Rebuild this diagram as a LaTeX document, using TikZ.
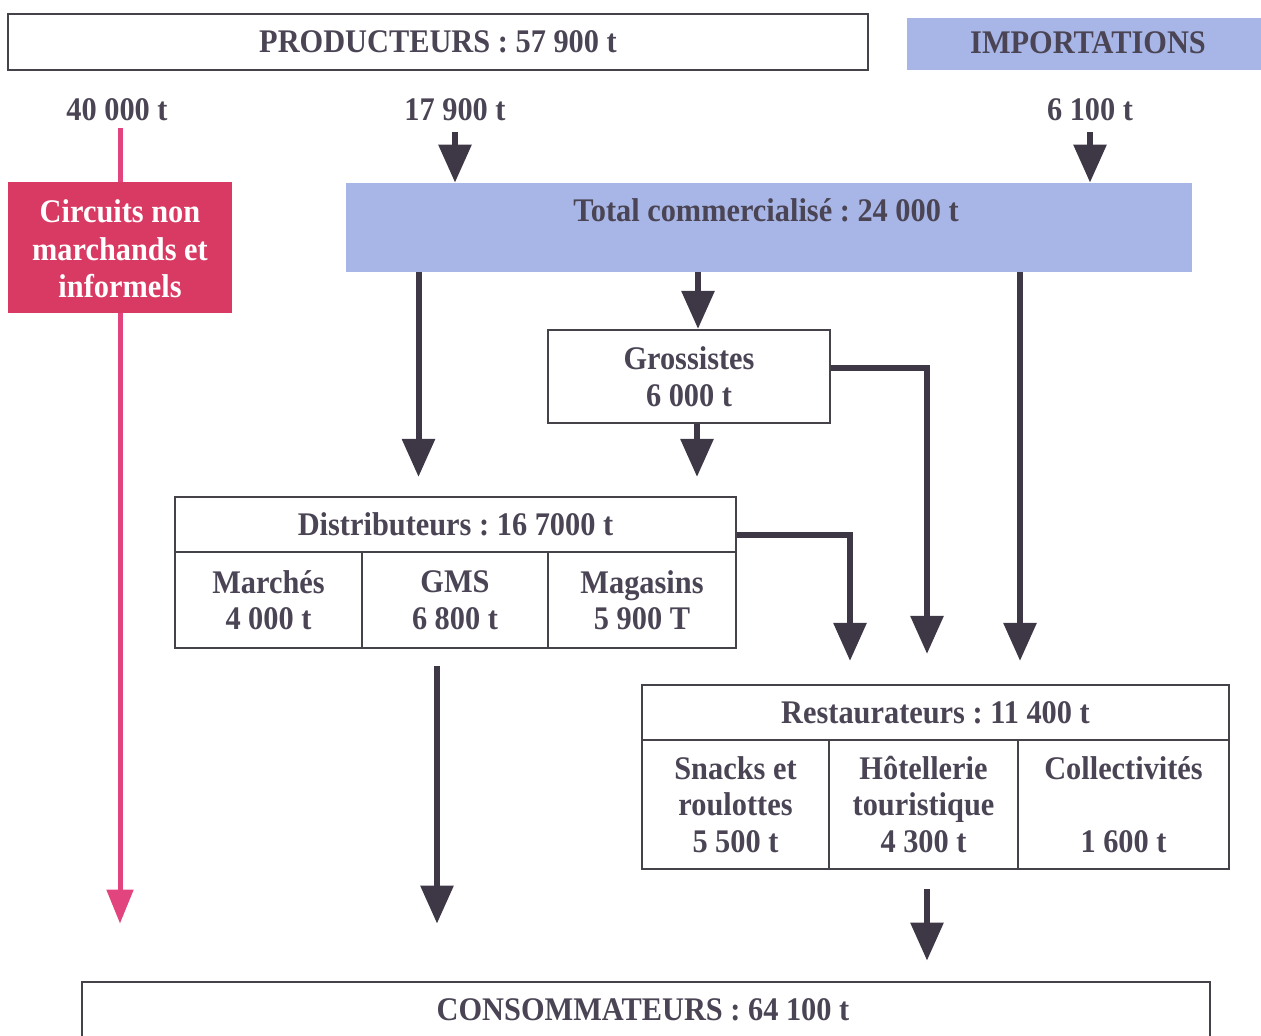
\documentclass[tikz,border=0pt]{standalone}
\usepackage{fontspec}
\setmainfont{Liberation Serif}[FakeStretch=0.92]
\frenchspacing
\usetikzlibrary{arrows.meta,fit}
\definecolor{linec}{HTML}{3E3846}
\definecolor{txtc}{HTML}{4A4454}
\definecolor{boxc}{HTML}{45424A}
\definecolor{blueb}{HTML}{A7B6E6}
\definecolor{pinkb}{HTML}{D93A63}
\definecolor{pinkl}{HTML}{E2457E}
\newcommand\cellbox[7][]{\node[inner sep=0pt,fit={(#3,#4) (#5,#6)},#1,
  label={[txt,align=center]center:#7}] (#2) {};}
\tikzset{
  txt/.style={text=txtc,font=\bfseries\fontsize{16.5}{18.3}\selectfont},
  frame/.style={draw=boxc,line width=1.4pt},
  cellf/.style={draw=boxc,line width=1.1pt},
  arr/.style={draw=linec,line width=3pt,-{Triangle[width=16pt,length=19pt]}},
  parr/.style={draw=pinkl,line width=2.5pt,-{Triangle[width=13pt,length=17pt]}},
}
\begin{document}
\begin{tikzpicture}[x=0.5pt,y=-0.5pt]
\useasboundingbox (0,0) rectangle (1261,1035);
% top boxes
\cellbox[frame]{prod}{8}{14}{868}{70}{PRODUCTEURS : 57 900 t}
\cellbox[fill=blueb]{imp}{907}{18}{1270}{70}{}
\node[txt] (imptxt) at (1088,43) {IMPORTATIONS};
% quantity labels
\node[txt] (l40) at (117,110) {40 000 t};
\node[txt] (l179) at (455,110) {17 900 t};
\node[txt] (l61) at (1090,110) {6 100 t};
% pink box
\cellbox[fill=pinkb]{circ}{8}{182}{232}{313}{}
\node[txt,text=white,align=center,font=\bfseries\fontsize{16.5}{18.7}\selectfont] (circtxt) at (120,249) {Circuits non\\marchands et\\informels};
% total
\cellbox[fill=blueb]{total}{346}{183}{1192}{272}{}
\node[txt] (totaltxt) at (766,210) {Total commercialisé : 24 000 t};
% grossistes
\cellbox[cellf]{gro}{548}{330}{830}{423}{Grossistes\\6 000 t}
% distributeurs
\cellbox[cellf]{dh}{175}{497}{736}{552}{Distributeurs : 16 7000 t}
\cellbox[cellf]{dm}{175}{552}{362}{648}{Marchés\\4 000 t}
\cellbox[cellf]{dg}{362}{552}{548}{648}{GMS\\6 800 t}
\cellbox[cellf]{dmag}{548}{552}{736}{648}{Magasins\\5 900 T}
% restaurateurs
\cellbox[cellf]{rh}{642}{685}{1229}{740}{Restaurateurs : 11 400 t}
\cellbox[cellf]{rs}{642}{740}{829}{869}{Snacks et\\roulottes\\5 500 t}
\cellbox[cellf]{rht}{829}{740}{1018}{869}{Hôtellerie\\touristique\\4 300 t}
\cellbox[cellf]{rc}{1018}{740}{1229}{869}{Collectivités\\\strut\\1 600 t}
% consommateurs
\cellbox[frame]{cons}{82}{982}{1210}{1045}{}
\node[txt] (constxt) at (643,1010) {CONSOMMATEURS : 64 100 t};
% pink flow
\draw[pinkl,line width=2.5pt] (l40.south -| circ.north) -- (circ.north);
\draw[parr,shorten >=28.5pt] (circ.south) -- (circ.south |- cons.north);
% arrows into total
\draw[arr] ([yshift=-2pt]l179.south) -- (l179.south |- total.north);
\draw[arr] ([yshift=-2pt]l61.south) -- (l61.south |- total.north);
% total outflows
\draw[arr] ([xshift=4.5pt]gro.north |- total.south) -- ([xshift=4.5pt]gro.north);
\draw[arr,shorten >=9.5pt] ([xshift=-18.5pt]dh.north |- total.south) -- ([xshift=-18.5pt]dh.north);
\draw[arr,shorten >=11.5pt] ([xshift=42.25pt]rh.north |- total.south) -- ([xshift=42.25pt]rh.north);
% grossistes outflows
\draw[arr,shorten >=9.5pt] ([xshift=4pt]gro.south) -- ([xshift=4pt]gro.south |- dh.north);
\draw[arr,shorten >=15pt] ([yshift=4.25pt]gro.east) -| ([xshift=-4.25pt]rh.north);
% distributeurs outflows
\draw[arr,shorten >=11.5pt] ([yshift=-5pt]dh.east) -| ([xshift=-42.75pt]rh.north);
\draw[arr,shorten <=8.5pt,shorten >=28.5pt] ([xshift=-9pt]dg.south) -- ([xshift=-9pt]dg.south |- cons.north);
% restaurateurs outflow
\draw[arr,shorten <=9.5pt,shorten >=10pt] ([xshift=1.75pt]rht.south) -- ([xshift=1.75pt]rht.south |- cons.north);
\end{tikzpicture}
\end{document}
